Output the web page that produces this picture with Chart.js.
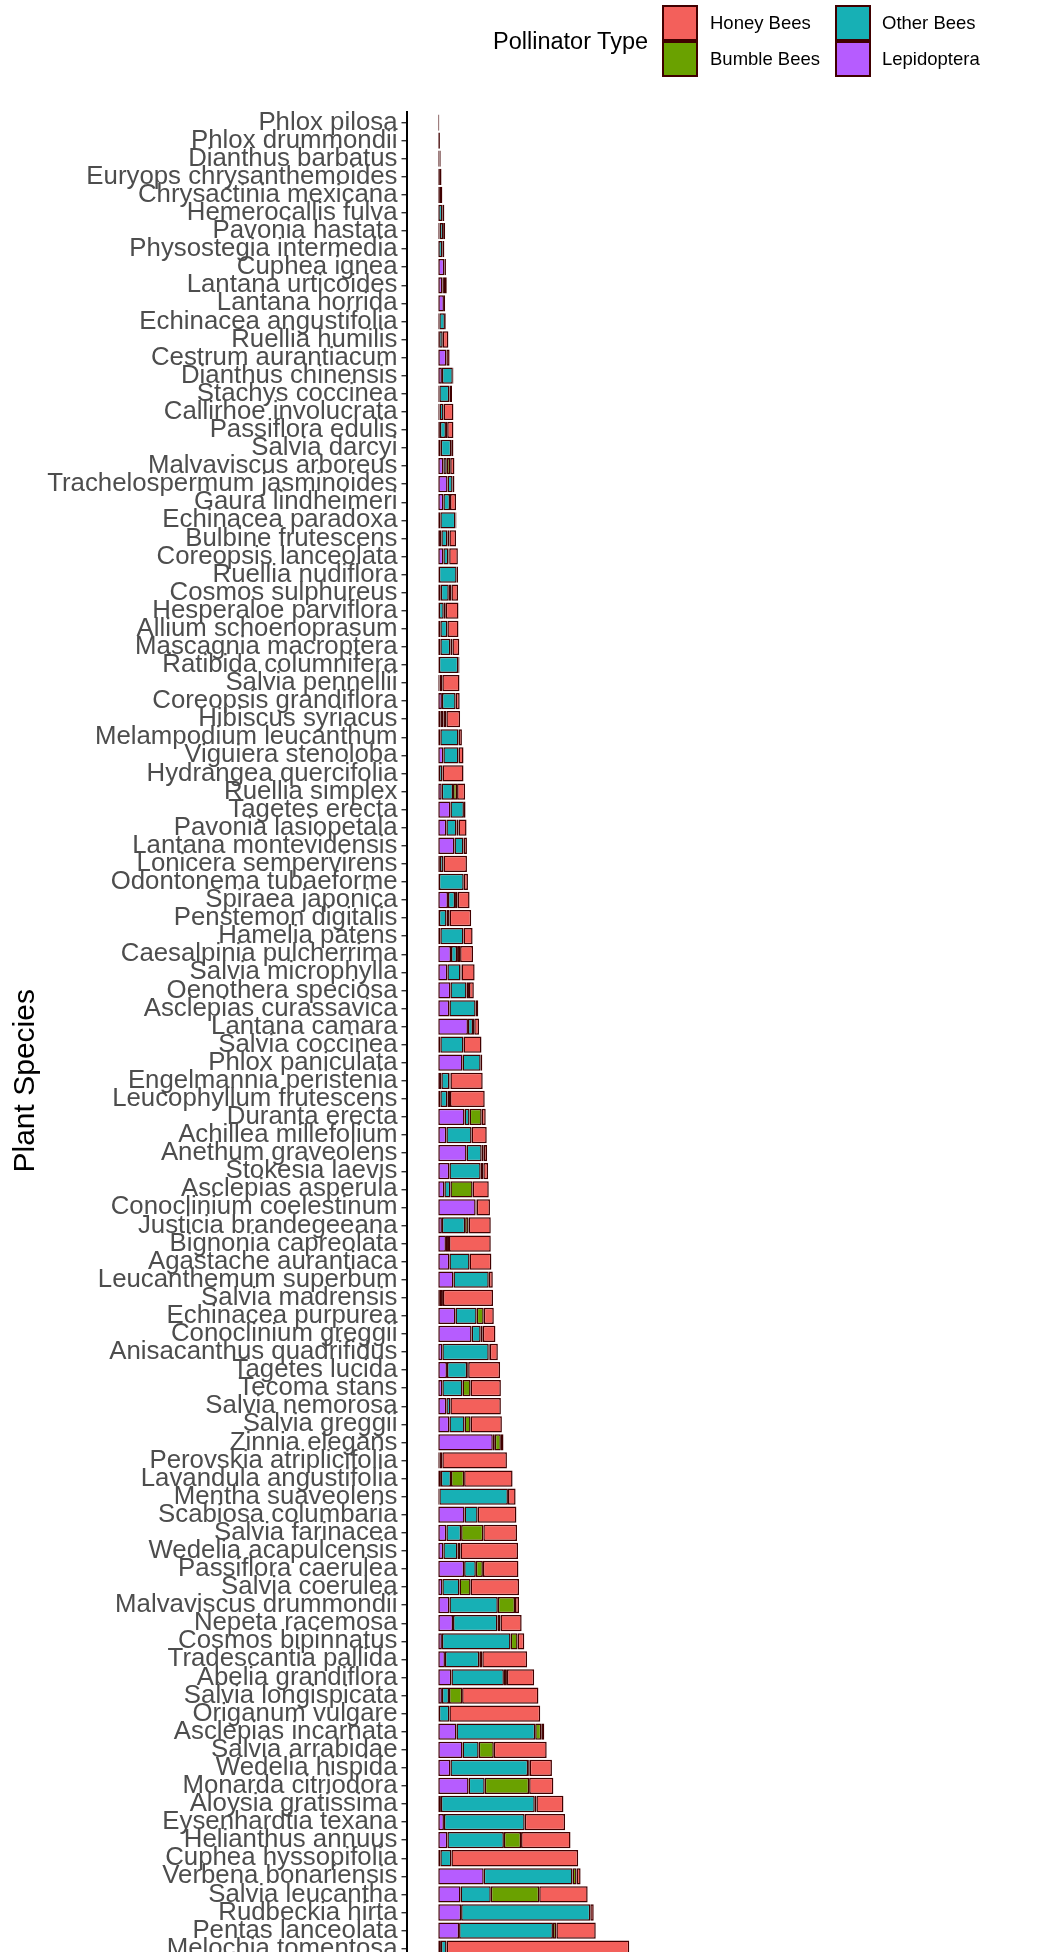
<!DOCTYPE html>
<html>
<head>
<meta charset="utf-8">
<script src="https://cdn.jsdelivr.net/npm/chart.js@4.4.1/dist/chart.umd.min.js"></script>
<style>
  html, body { margin: 0; padding: 0; background: #fff; overflow: hidden; }
  #frame { position: relative; width: 1062px; height: 1952px; overflow: hidden;
           font-family: "Liberation Sans", Arial, sans-serif; }
  #chart { position: absolute; left: 0; top: 0; }
  .lg-title { position: absolute; left: 493px; top: 41px; transform: translateY(-50%);
              font-size: 23.5px; color: #000; white-space: nowrap; }
  .lg-key { position: absolute; width: 36px; height: 36px; box-sizing: border-box;
            border: 2.5px solid #400000; }
  .lg-text { position: absolute; font-size: 18.5px; color: #000; white-space: nowrap;
             transform: translateY(-50%); }
</style>
</head>
<body>
<div id="frame">
  <canvas id="chart" width="1062" height="2062"></canvas>
  <div class="lg-title">Pollinator Type</div>
  <div class="lg-key" id="key-honey" style="left:662px; top:5px;"></div>
  <div class="lg-text" style="left:710px; top:23px;">Honey Bees</div>
  <div class="lg-key" id="key-bumble" style="left:662px; top:41px;"></div>
  <div class="lg-text" style="left:710px; top:59px;">Bumble Bees</div>
  <div class="lg-key" id="key-other" style="left:835px; top:5px;"></div>
  <div class="lg-text" style="left:882px; top:23px;">Other Bees</div>
  <div class="lg-key" id="key-lepi" style="left:835px; top:41px;"></div>
  <div class="lg-text" style="left:882px; top:59px;">Lepidoptera</div>
</div>
<script>
// Plant species, top to bottom
const species = [
  "Phlox pilosa", "Phlox drummondii", "Dianthus barbatus", "Euryops chrysanthemoides",
  "Chrysactinia mexicana", "Hemerocallis fulva", "Pavonia hastata", "Physostegia intermedia",
  "Cuphea ignea", "Lantana urticoides", "Lantana horrida", "Echinacea angustifolia",
  "Ruellia humilis", "Cestrum aurantiacum", "Dianthus chinensis", "Stachys coccinea",
  "Callirhoe involucrata", "Passiflora edulis", "Salvia darcyi", "Malvaviscus arboreus",
  "Trachelospermum jasminoides", "Gaura lindheimeri", "Echinacea paradoxa", "Bulbine frutescens",
  "Coreopsis lanceolata", "Ruellia nudiflora", "Cosmos sulphureus", "Hesperaloe parviflora",
  "Allium schoenoprasum", "Mascagnia macroptera", "Ratibida columnifera", "Salvia pennellii",
  "Coreopsis grandiflora", "Hibiscus syriacus", "Melampodium leucanthum", "Viguiera stenoloba",
  "Hydrangea quercifolia", "Ruellia simplex", "Tagetes erecta", "Pavonia lasiopetala",
  "Lantana montevidensis", "Lonicera sempervirens", "Odontonema tubaeforme", "Spiraea japonica",
  "Penstemon digitalis", "Hamelia patens", "Caesalpinia pulcherrima", "Salvia microphylla",
  "Oenothera speciosa", "Asclepias curassavica", "Lantana camara", "Salvia coccinea",
  "Phlox paniculata", "Engelmannia peristenia", "Leucophyllum frutescens", "Duranta erecta",
  "Achillea millefolium", "Anethum graveolens", "Stokesia laevis", "Asclepias asperula",
  "Conoclinium coelestinum", "Justicia brandegeeana", "Bignonia capreolata", "Agastache aurantiaca",
  "Leucanthemum superbum", "Salvia madrensis", "Echinacea purpurea", "Conoclinium greggii",
  "Anisacanthus quadrifidus", "Tagetes lucida", "Tecoma stans", "Salvia nemorosa",
  "Salvia greggii", "Zinnia elegans", "Perovskia atriplicifolia", "Lavandula angustifolia",
  "Mentha suaveolens", "Scabiosa columbaria", "Salvia farinacea", "Wedelia acapulcensis",
  "Passiflora caerulea", "Salvia coerulea", "Malvaviscus drummondii", "Nepeta racemosa",
  "Cosmos bipinnatus", "Tradescantia pallida", "Abelia grandiflora", "Salvia longispicata",
  "Origanum vulgare", "Asclepias incarnata", "Salvia arrabidae", "Wedelia hispida",
  "Monarda citriodora", "Aloysia gratissima", "Eysenhardtia texana", "Helianthus annuus",
  "Cuphea hyssopifolia", "Verbena bonariensis", "Salvia leucantha", "Rudbeckia hirta",
  "Pentas lanceolata", "Melochia tomentosa"
];

// Visits per pollinator group, same order as species
const lepidoptera = [
  0, 0, 0, 0, 0.8, 0, 0.6, 0, 3, 2, 2.8, 0.5,
  0.4, 4, 1.8, 0.5, 0.6, 0.8, 1.2, 2.5, 4.6, 2.5, 1, 1.5,
  2.5, 0.3, 1.2, 0.3, 1, 1, 0.3, 0.6, 1.8, 1, 1, 2.5,
  0.3, 1.7, 6, 4, 8, 0.8, 0.3, 4.8, 0.3, 1, 6.3, 4.5,
  6, 5.5, 14.7, 1, 12, 1.5, 1, 13, 4, 14, 5.5, 3,
  18.5, 1.8, 3.8, 5.5, 7.5, 0.8, 8.5, 16.5, 2, 4.3, 2, 4,
  5.5, 27, 0.5, 1.3, 0.5, 13, 4, 2.5, 12.8, 2, 5.5, 7.3,
  1.8, 3.3, 6.5, 1.8, 0.3, 9, 12, 6, 15, 1.3, 2.8, 4.5,
  1, 22.5, 11, 11.3, 10.3, 1.3
];
const otherBees = [
  0, 0, 0.6, 0.8, 0, 2, 1.8, 2, 0, 0.8, 0, 2.8,
  1.8, 0, 5.4, 5, 2, 3, 5.2, 1.7, 2.5, 3.3, 7.5, 3,
  2.5, 8.8, 4, 2.4, 3.5, 5, 9.6, 1.4, 6.8, 1.5, 9, 7.5,
  1.8, 5.6, 6.7, 5, 4.5, 1.8, 12.3, 3.5, 3.8, 11.5, 3, 6.5,
  8, 13, 2.5, 11.5, 9, 4, 3.5, 2.5, 12.5, 7.5, 15.5, 3,
  0.5, 11.5, 1.5, 10, 17.5, 1.5, 10.5, 4.5, 23, 10, 10, 2,
  7.5, 1, 1.5, 5, 34, 6.5, 7.3, 7, 5.8, 8.5, 24, 22,
  34, 17, 26, 3.5, 5.2, 39, 8, 38.5, 8, 46.5, 40, 28,
  5.5, 44, 15, 64, 46.5, 2.8
];
const bumbleBees = [
  0, 0, 0, 0, 0, 0, 0, 0, 0, 0, 0, 0,
  0, 0, 0, 0, 0, 0.6, 0, 1.7, 0, 0, 0, 1,
  0.4, 0, 1.3, 1, 0, 1, 0, 0, 0, 1.5, 0, 0,
  0, 2, 0, 1, 0, 0, 0, 1.3, 1.5, 0, 1.5, 0.5,
  1.2, 0, 0.6, 0, 0, 0.5, 1.3, 6, 0, 1, 1.3, 11,
  0, 1.7, 0, 0, 0, 0, 3.5, 1, 0.5, 0.5, 4, 0,
  3, 3, 0, 6.5, 0, 0, 11, 1.5, 3.5, 5.5, 8.5, 1.5,
  3.5, 1.5, 1.5, 6.5, 0, 3, 7.5, 0.8, 22, 0.8, 0, 8.5,
  0, 2, 24, 0, 1.7, 0
];
const honeyBees = [
  0.5, 0.8, 0.6, 0.8, 1.2, 1, 1, 1, 0.8, 1.4, 0.6, 0.4,
  2.8, 1.6, 0.3, 1.3, 4.9, 3.1, 1.1, 2.1, 0.9, 3, 0.5, 3.3,
  4.3, 0.7, 3.3, 6.3, 5.5, 3.4, 0.6, 8.5, 2, 6.8, 1.7, 2.5,
  10.4, 4, 0.8, 4, 1.7, 11.6, 2.1, 5.9, 10.7, 4.5, 6.4, 6.5,
  2.4, 1.3, 2.4, 8.9, 0.8, 16, 17.2, 2, 7.5, 1.7, 2.4, 8,
  6.6, 11, 20.7, 10.8, 2, 24.8, 5, 6.3, 4, 15.8, 15, 25,
  15.5, 1.3, 32, 24, 3.8, 19.2, 16.7, 28.5, 17.6, 24, 2, 10.5,
  3.3, 22.2, 13.5, 37.8, 45, 1.5, 26.2, 11, 12, 13.4, 20, 24.5,
  62.8, 2, 24, 1.7, 19.5, 90.5
];

const groups = [
  { label: "Lepidoptera", values: lepidoptera, color: "#B65CFF", key: "key-lepi" },
  { label: "Other Bees",  values: otherBees,   color: "#17B0B5", key: "key-other" },
  { label: "Bumble Bees", values: bumbleBees,  color: "#6AA100", key: "key-bumble" },
  { label: "Honey Bees",  values: honeyBees,   color: "#F3605B", key: "key-honey" }
];
groups.forEach(g => { document.getElementById(g.key).style.background = g.color; });

const FONT = '"Liberation Sans", Arial, sans-serif';
// the species axis keeps running a few rows past the last listed plant
const rowsAfterLast = 5;

new Chart(document.getElementById("chart"), {
  type: "bar",
  data: {
    datasets: groups.map(g => ({
      label: g.label,
      data: g.values.map((v, i) => ({ x: v, y: i })),
      backgroundColor: g.color,
      borderColor: "#400000",
      borderWidth: 1.5,
      borderSkipped: false,
      categoryPercentage: 1,
      barPercentage: 0.9
    }))
  },
  options: {
    indexAxis: "y",
    responsive: false,
    animation: false,
    layout: { padding: { top: 111.7, bottom: 12.1, left: 0, right: 6 } },
    plugins: { legend: { display: false }, tooltip: { enabled: false } },
    scales: {
      x: { type: "linear", stacked: true, min: -15.5, max: 306, display: false },
      y: {
        type: "linear",
        stacked: true,
        reverse: true,
        offset: false,
        min: -0.6,
        max: species.length - 1 + rowsAfterLast + 0.6,
        afterBuildTicks: s => { s.ticks = species.map((_, i) => ({ value: i })); },
        afterFit: s => { s.width = 407; s.paddingTop = 0; s.paddingBottom = 0; },
        ticks: {
          autoSkip: false,
          padding: 4,
          color: "#4D4D4D",
          font: { family: FONT, size: 25.8 },
          callback: v => species[v]
        },
        grid: { offset: false, drawOnChartArea: false, drawTicks: true, tickLength: 5.5, color: "#333333", lineWidth: 1.4 },
        border: { display: true, color: "#000000", width: 2 },
        title: {
          display: true,
          text: "Plant Species",
          color: "#000000",
          font: { family: FONT, size: 30 },
          padding: { top: 8, bottom: 0 }
        }
      }
    }
  }
});
</script>
</body>
</html>
